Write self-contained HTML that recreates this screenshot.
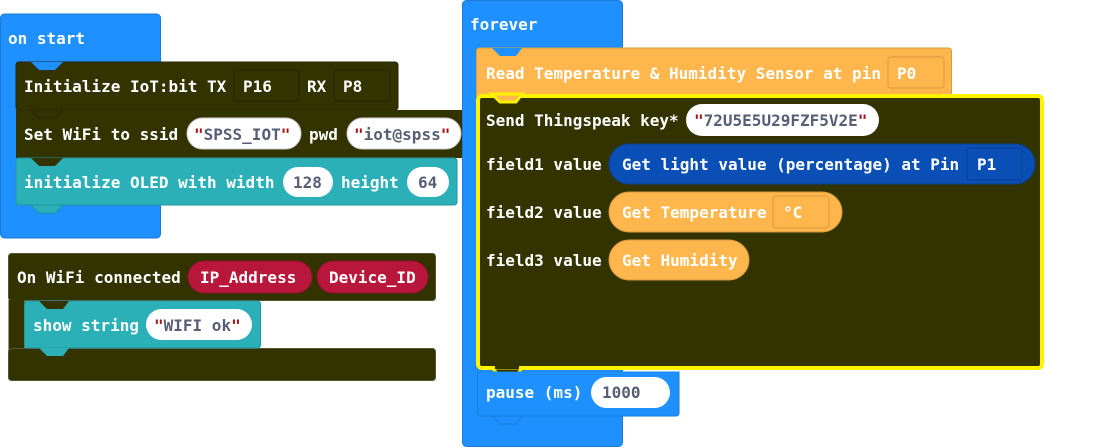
<!DOCTYPE html>
<html><head><meta charset="utf-8"><style>
html,body{margin:0;padding:0;background:#fff;}
svg{display:block}
text{font-family:"DejaVu Sans Mono","Liberation Mono",monospace;font-weight:bold;font-size:16px;fill:#fff}
.d{fill:#575e75}
.q{fill:#a31515}
</style></head><body>
<svg width="1094" height="448" viewBox="0 0 1094 448" xmlns="http://www.w3.org/2000/svg">
<!-- ON START -->
<rect x="0.5" y="14" width="160" height="224" rx="4" fill="#1e90ff" stroke="#1a7ad6"/>
<text x="8" y="44">on start</text>
<!-- init iot -->
<rect x="16" y="62" width="382" height="48" rx="3" fill="#333300" stroke="#24240a"/>
<polygon points="31,62 39,70 55,70 63,62" fill="#1e90ff"/>
<text x="24" y="92">Initialize IoT:bit TX</text>
<rect x="234" y="70" width="65" height="31" rx="3" fill="#333300" stroke="#222200"/>
<text x="243" y="92">P16</text>
<text x="307" y="92">RX</text>
<rect x="334" y="70" width="56" height="31" rx="3" fill="#333300" stroke="#222200"/>
<text x="343" y="92">P8</text>
<!-- set wifi -->
<rect x="16" y="110" width="446" height="48" rx="0" fill="#333300"/>
<polygon points="31,110 39,118 55,118 63,110" fill="#333300" stroke="#24240a"/>
<text x="24" y="140">Set WiFi to ssid</text>
<rect x="187" y="118" width="114" height="31" rx="15.5" fill="#fff" stroke="#ccc"/>
<text x="194" y="140"><tspan class="q">"</tspan><tspan class="d">SPSS_IOT</tspan><tspan class="q">"</tspan></text>
<text x="309" y="140">pwd</text>
<rect x="347" y="118" width="114" height="31" rx="15.5" fill="#fff" stroke="#ccc"/>
<text x="354" y="140"><tspan class="q">"</tspan><tspan class="d">iot@spss</tspan><tspan class="q">"</tspan></text>
<!-- OLED -->
<rect x="16" y="158" width="441" height="47" rx="3" fill="#2bb0b8" stroke="#23959c"/>
<polygon points="31,158 39,166 55,166 63,158" fill="#333300"/>
<polygon points="31,205 39,213 55,213 63,205" fill="#2bb0b8" stroke="#23959c"/>
<text x="24" y="188">initialize OLED with width</text>
<rect x="283" y="167" width="50" height="30" rx="15" fill="#fff"/>
<text x="293" y="188" class="d">128</text>
<text x="341" y="188">height</text>
<rect x="407" y="167" width="42" height="30" rx="15" fill="#fff"/>
<text x="418" y="188" class="d">64</text>

<!-- ON WIFI -->
<rect x="8.5" y="253.5" width="427" height="47" rx="3" fill="#333300" stroke="#555533"/>
<rect x="8.5" y="300" width="16" height="50" fill="#333300"/>
<rect x="8.5" y="348.5" width="427" height="32" rx="3" fill="#333300" stroke="#555533"/>
<text x="17" y="283">On WiFi connected</text>
<rect x="188" y="261" width="124" height="32" rx="16" fill="#b8163a" stroke="#8e1230"/>
<text x="200" y="283">IP_Address</text>
<rect x="317" y="261" width="111" height="32" rx="16" fill="#b8163a" stroke="#8e1230"/>
<text x="329" y="283">Device_ID</text>
<rect x="24.5" y="301" width="236" height="47" rx="3" fill="#2bb0b8" stroke="#23959c"/>
<polygon points="39,301 47,309 63,309 69,301" fill="#333300"/>
<polygon points="39,348 47,356 63,356 69,348" fill="#2bb0b8"/>
<text x="33" y="331">show string</text>
<rect x="146" y="309" width="106" height="31" rx="15.5" fill="#fff"/>
<text x="154" y="331"><tspan class="q">"</tspan><tspan class="d">WIFI ok</tspan><tspan class="q">"</tspan></text>

<!-- FOREVER -->
<rect x="462.5" y="0.5" width="160" height="446" rx="4" fill="#1e90ff" stroke="#1a7ad6"/>
<text x="470" y="30">forever</text>
<!-- read temp -->
<rect x="476.5" y="48" width="475" height="50" rx="3" fill="#ffb74d" stroke="#d99a3e"/>
<polygon points="492,48 500,56 516,56 522,48" fill="#1e90ff"/>
<text x="486" y="79">Read Temperature &amp; Humidity Sensor at pin</text>
<rect x="888" y="57" width="56" height="31" rx="3" fill="#ffb74d" stroke="#d99a3e"/>
<text x="897" y="79">P0</text>
<!-- send -->
<rect x="478" y="96" width="564" height="272" rx="4" fill="#333300" stroke="#fff200" stroke-width="4"/>
<polygon points="492,94 500,102 516,102 522,94" fill="#ffb74d" stroke="#fff200" stroke-width="3"/>
<polygon points="492,368 500,376 516,376 522,368" fill="#333300" stroke="#fff200" stroke-width="3"/>
<rect x="495" y="364" width="24" height="5" fill="#333300"/>
<text x="486" y="126">Send Thingspeak key*</text>
<rect x="686" y="104" width="193" height="32" rx="16" fill="#fff"/>
<text x="694" y="126"><tspan class="q">"</tspan><tspan class="d">72U5E5U29FZF5V2E</tspan><tspan class="q">"</tspan></text>
<text x="486" y="170">field1 value</text>
<rect x="609" y="144" width="426" height="40" rx="20" fill="#0a4fb5" stroke="#083f90"/>
<text x="622" y="170">Get light value (percentage) at Pin</text>
<rect x="967" y="148" width="55" height="32" rx="3" fill="#0a4fb5" stroke="#083f90"/>
<text x="977" y="170">P1</text>
<text x="486" y="218">field2 value</text>
<rect x="609" y="192" width="233" height="40" rx="20" fill="#ffb74d" stroke="#d99a3e"/>
<text x="622" y="218">Get Temperature</text>
<rect x="773" y="196" width="56" height="32" rx="3" fill="#ffb74d" stroke="#d99a3e"/>
<text x="783" y="218">°C</text>
<text x="486" y="266">field3 value</text>
<rect x="609" y="240" width="140" height="40" rx="20" fill="#ffb74d" stroke="#d99a3e"/>
<text x="622" y="266">Get Humidity</text>
<!-- pause -->
<path d="M477.5,372 H679 V413 a3,3 0 0 1 -3,3 H480.5 a3,3 0 0 1 -3,-3 Z" fill="#1e90ff" stroke="#1a7ad6"/>
<polygon points="492,416 500,424 516,424 522,416" fill="#1e90ff" stroke="#1a7ad6"/>
<rect x="478" y="372" width="200" height="3" fill="#1e90ff"/>
<text x="486" y="398">pause (ms)</text>
<rect x="591" y="377" width="79" height="31" rx="15.5" fill="#fff"/>
<text x="602" y="398" class="d">1000</text>
</svg>
</body></html>
